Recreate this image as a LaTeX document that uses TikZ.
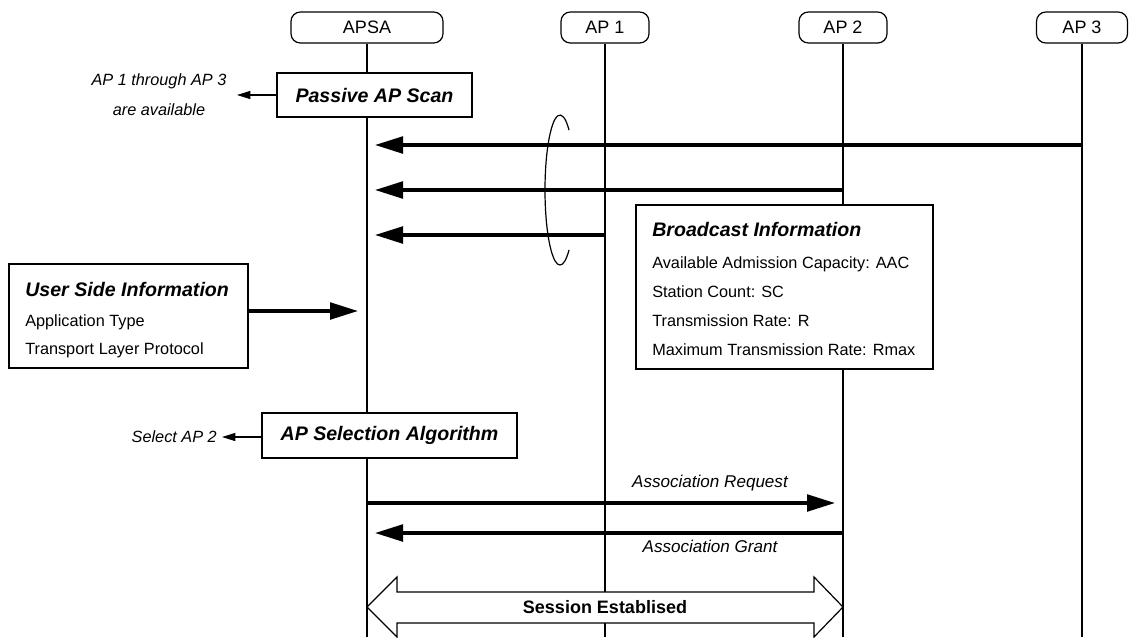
\documentclass[tikz,border=0pt]{standalone}
\usepackage{fontspec}
\setmainfont{Liberation Sans}
\usetikzlibrary{arrows.meta}
\begin{document}
\begin{tikzpicture}[x=0.75pt,y=-0.75pt,
  header/.style={draw, rounded corners=7pt, line width=0.9pt, fill=white,
    minimum height=23.25pt, inner sep=0, font=\fontsize{13.5}{16}\selectfont},
  life/.style={line width=1pt},
  procbox/.style={draw, line width=1.1pt, fill=white, inner sep=0,
    font=\fontsize{14.7}{17}\selectfont\bfseries\itshape},
  infobox/.style={draw, line width=1.1pt, fill=white, inner sep=0},
  boxtitle/.style={anchor=west, inner sep=0, font=\fontsize{14.7}{17}\selectfont\bfseries\itshape},
  boxline/.style={anchor=west, inner sep=0, font=\fontsize{12.2}{14}\selectfont},
  msg/.style={line width=2.5pt, -{Triangle[length=21pt,width=12.5pt]}},
  note/.style={line width=0.9pt, -{Triangle[length=10pt,width=6pt]}},
  notetext/.style={inner sep=0, font=\fontsize{12.2}{22.5}\selectfont\itshape},
  msglabel/.style={inner sep=0, font=\fontsize{12.8}{15}\selectfont\itshape},
]
\useasboundingbox (0,0) rectangle (1129,637);
\coordinate (bottom) at (0,637);

% entities
\node[header, minimum width=114pt] (apsa) at (367,27.5) {APSA};
\node[header, minimum width=66pt] (ap1) at (605,27.5) {AP 1};
\node[header, minimum width=66pt] (ap2) at (843,27.5) {AP 2};
\node[header, minimum width=68.25pt] (ap3) at (1082,27.5) {AP 3};

% lifelines
\foreach \e in {apsa,ap1,ap2,ap3}
  \draw[life] (\e.south) -- (\e.south |- bottom);

% passive scan
\node[procbox, minimum width=146.25pt, minimum height=33pt] (scan) at (374.5,95) {Passive AP Scan};
\node[notetext, align=center] (avail) at (159,95) {AP 1 through AP 3\\are available};
\coordinate (availtip) at (237,95);
\draw[note] (scan.west) -- (availtip);

% beacon messages
\coordinate (b3s) at (ap3.south |- 0,145);
\coordinate (b3e) at (apsa.south |- 0,145);
\coordinate (b2s) at (ap2.south |- 0,190);
\coordinate (b2e) at (apsa.south |- 0,190);
\coordinate (b1s) at (ap1.south |- 0,235);
\coordinate (b1e) at (apsa.south |- 0,235);
\draw[msg, shorten >=6pt] (b3s) -- (b3e);
\draw[msg, shorten >=6pt] (b2s) -- (b2e);
\draw[msg, shorten >=6pt] (b1s) -- (b1e);

% grouping loop around the beacons
\coordinate (loopc) at (560,190);
\draw[line width=0.9pt] (loopc) ++(53:11.25pt and 56.25pt)
  arc[start angle=53, end angle=307, x radius=11.25pt, y radius=56.25pt];

% broadcast information
\node[infobox, minimum width=222.75pt, minimum height=123pt] (bcast) at (784.5,287) {};
\node[boxtitle] (bt) at (652,229) {Broadcast Information};
\node[boxline] (b1) at (652,264) {Available Admission Capacity: AAC};
\node[boxline] (b2) at (652,292) {Station Count: SC};
\node[boxline] (b3) at (652,321) {Transmission Rate: R};
\node[boxline] (b4) at (652,350) {Maximum Transmission Rate: Rmax};

% user side information
\node[infobox, minimum width=179.25pt, minimum height=78pt] (user) at (128.5,316) {};
\node[boxtitle] (ut) at (25,289) {User Side Information};
\node[boxline] (u1) at (25,322) {Application Type};
\node[boxline] (u2) at (25,350) {Transport Layer Protocol};
\coordinate (uin) at (apsa.south |- 0,311);
\draw[msg, shorten >=6.75pt] ([yshift=3.75pt]user.east) -- (uin);

% selection
\node[procbox, minimum width=191.25pt, minimum height=33.75pt] (sel) at (389.5,435.5) {AP Selection Algorithm};
\node[notetext, anchor=east] (selnote) at (217,437) {Select AP 2};
\coordinate (seltip) at (222,437);
\draw[note] (sel.west |- seltip) -- (seltip);

% association
\coordinate (rqs) at (apsa.south |- 0,503);
\coordinate (rqe) at (ap2.south |- 0,503);
\coordinate (gts) at (ap2.south |- 0,533);
\coordinate (gte) at (apsa.south |- 0,533);
\draw[msg, shorten >=6pt] (rqs) -- (rqe);
\draw[msg, shorten >=6pt] (gts) -- (gte);
\node[msglabel] (rql) at (710,483) {Association Request};
\node[msglabel] (gtl) at (710,546) {Association Grant};

% session
\draw[line width=0.9pt, fill=white]
  (367,607) -- (397,577) -- (397,592) -- (814,592) -- (814,577) -- (843,607)
  -- (814,637) -- (814,623) -- (397,623) -- (397,637) -- cycle;
\node[inner sep=0, font=\fontsize{13.5}{16}\selectfont\bfseries] (sess) at (605,607) {Session Establised};
\end{tikzpicture}
\end{document}
